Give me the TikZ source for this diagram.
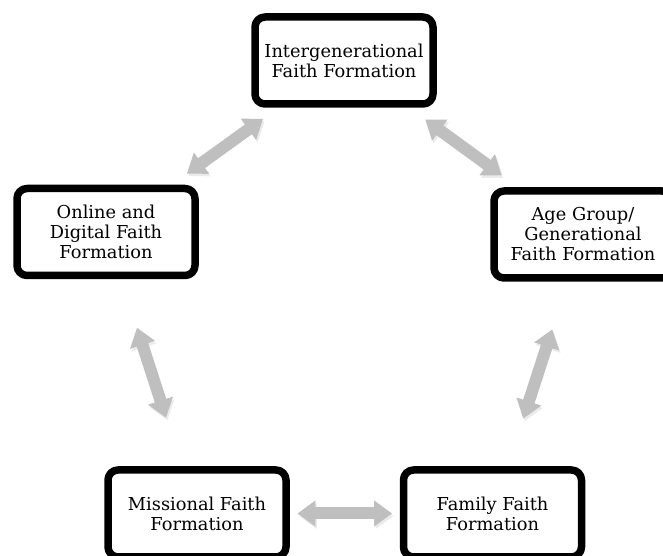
\documentclass[tikz,border=0pt]{standalone}
\usepackage{fontspec}
\setmainfont{DejaVu Serif}
\usetikzlibrary{calc,arrows.meta,shadows}

\tikzset{
  faithbox/.style={draw, fill=white, line width=7.5pt, rounded corners=10pt,
    minimum width=178pt, minimum height=87pt, align=center,
    drop shadow={shadow xshift=1.5pt, shadow yshift=-3pt, opacity=.35}},
  twoway/.style={draw=black!25, line width=12pt,
    {Triangle[width=25pt,length=18pt]}-{Triangle[width=25pt,length=18pt]},
    preaction={draw=black!8, transform canvas={shift={(1.5pt,-2.5pt)}}}}
}

\begin{document}
\begin{tikzpicture}[x=1pt, y=1pt, font=\fontsize{17.8}{20}\selectfont, line join=round]
  \useasboundingbox (0,0) rectangle (663,556);

  % Five forms of faith formation
  \node[faithbox] (inter) at (344,495.5) {Intergenerational\\Faith Formation};
  \node[faithbox] (online) at (106,324) {Online and\\Digital Faith\\Formation};
  \node[faithbox] (agegroup) at (583,321.5) {Age Group/\\Generational\\Faith Formation};
  \node[faithbox] (missional) at (197,42.5) {Missional Faith\\Formation};
  \node[faithbox] (family) at (492.5,42.5) {Family Faith\\Formation};

  % Two-way arrows between neighbours
  \foreach \a/\b in {inter/online, inter/agegroup, online/missional, agegroup/family, missional/family}
    \draw[twoway] ($(\a)!0.34!(\b)$) -- ($(\a)!0.66!(\b)$);
\end{tikzpicture}
\end{document}
